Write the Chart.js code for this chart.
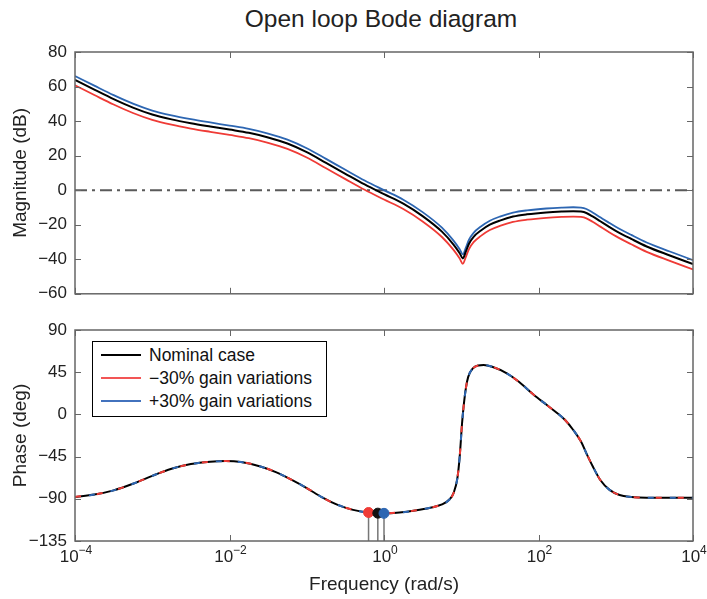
<!DOCTYPE html>
<html>
<head>
<meta charset="utf-8">
<title>Open loop Bode diagram</title>
<script src="https://cdn.jsdelivr.net/npm/chart.js@4.4.0/dist/chart.umd.min.js"></script>
<style>
    body { margin: 0; background: #fff; font-family: "Liberation Sans", Arial, sans-serif; }
    #wrap { position: relative; width: 707px; height: 599px; overflow: hidden; }
    #wrap canvas { position: absolute; left: 0; }
    #title { position: absolute; left: 72px; width: 618px; top: 5px; text-align: center; font-size: 24.5px; color: #222; }
    #legend { position: absolute; left: 92px; top: 341px; width: 233px; height: 74px; border: 1px solid #000; background: #fff; }
    .row { position: absolute; left: 0; height: 20px; font-size: 17.5px; color: #111; line-height: 20px; }
    .row span.line { position: absolute; left: 8px; top: 9px; width: 40px; height: 2px; }
    .row span.txt { position: absolute; left: 56px; top: 0; white-space: nowrap; }
</style>
</head>
<body>
<div id="wrap">
    <div id="title">Open loop Bode diagram</div>
    <canvas id="magChart" width="707" height="312" style="top:0"></canvas>
    <canvas id="phaseChart" width="707" height="299" style="top:300px"></canvas>
    <div id="legend">
        <div class="row" style="top:3px"><span class="line" style="background:#000"></span><span class="txt">Nominal case</span></div>
        <div class="row" style="top:26px"><span class="line" style="background:#f25555"></span><span class="txt">−30% gain variations</span></div>
        <div class="row" style="top:49px"><span class="line" style="background:#4272bd"></span><span class="txt">+30% gain variations</span></div>
    </div>
</div>
<script>
// 频率 (log10 rad/s)
const magFreqExp = [-4, -3.75, -3.5, -3.25, -3, -2.75, -2.5, -2.25, -2, -1.75, -1.5, -1.25, -1, -0.75, -0.5, -0.25, 0, 0.25, 0.5, 0.75, 0.9, 0.98, 1.02, 1.06, 1.1, 1.16, 1.25, 1.37, 1.5, 1.67, 1.85, 2.1, 2.3, 2.45, 2.55, 2.62, 2.7, 2.8, 2.9, 3.0, 3.2, 3.4, 3.7, 4];

// 幅值 (dB)
const magNominal = [63.8, 58.2, 52.7, 47.8, 43.8, 41.0, 38.8, 36.9, 35.1, 33.2, 30.5, 27.0, 22.0, 15.8, 9.5, 3.3, -2.3, -7.8, -15.0, -24.0, -31.5, -36.5, -39.5, -35.5, -31.0, -27.0, -23.5, -20.0, -17.6, -15.3, -14.0, -12.9, -12.4, -12.2, -12.4, -13.2, -15.2, -18.0, -20.8, -23.5, -28.2, -32.6, -37.8, -42.8];
const magMinus30 = [60.7, 55.1, 49.6, 44.7, 40.7, 37.9, 35.7, 33.8, 32.0, 30.1, 27.4, 23.9, 18.9, 12.7, 6.4, 0.2, -5.4, -10.9, -18.1, -27.1, -34.6, -39.6, -42.6, -38.6, -34.1, -30.1, -26.6, -23.1, -20.7, -18.4, -17.1, -16.0, -15.5, -15.3, -15.5, -16.3, -18.3, -21.1, -23.9, -26.6, -31.3, -35.7, -40.9, -45.9];
const magPlus30 = [66.1, 60.5, 55.0, 50.1, 46.1, 43.3, 41.1, 39.2, 37.4, 35.5, 32.8, 29.3, 24.3, 18.1, 11.8, 5.6, 0.0, -5.5, -12.7, -21.7, -29.2, -34.2, -37.2, -33.2, -28.7, -24.7, -21.2, -17.7, -15.3, -13.0, -11.7, -10.6, -10.1, -9.9, -10.1, -10.9, -12.9, -15.7, -18.5, -21.2, -25.9, -30.3, -35.5, -40.5];

// 相位 (deg)，三条曲线重合
const phaseFreqExp = [-4, -3.75, -3.5, -3.25, -3, -2.75, -2.5, -2.25, -2.05, -1.85, -1.6, -1.4, -1.2, -1, -0.8, -0.6, -0.4, -0.2, 0, 0.2, 0.4, 0.6, 0.75, 0.85, 0.9, 0.95, 0.98, 1.01, 1.03, 1.06, 1.09, 1.15, 1.22, 1.29, 1.4, 1.59, 1.75, 1.93, 2.1, 2.24, 2.35, 2.45, 2.55, 2.62, 2.7, 2.8, 2.92, 3.05, 3.2, 3.4, 4];
const phaseDeg = [-88, -85.5, -81, -74, -65.5, -58, -53, -50.5, -49.8, -50.8, -55.5, -61.5, -69.5, -78.5, -88.5, -96.5, -101.8, -104.6, -105.5, -104.6, -102.5, -99.5, -96, -90.5, -84, -68, -45, -10, 8, 28, 40, 49, 52.2, 52.7, 50.8, 43.8, 34.5, 21.5, 10.5, 1.5, -6.5, -16.6, -29, -41.5, -55, -70, -80.5, -86, -88, -88.8, -88.8];

// 相位裕度点
const pmFreqExp = [-0.2, -0.08, 0.0];
const pmPhase = [-104.6, -105.3, -105.5];
const pmColors = ['#ef3b36', '#111111', '#2d66b2'];

// 刻度
const xTickExp = [-4, -2, 0, 2, 4];

const RED = '#ef3b36';
const BLUE = '#2d66b2';
const AXIS = '#666666';
const FONT = '"Liberation Sans", Arial, sans-serif';

function pts(xs, ys) {
    return xs.map((x, i) => ({ x: x, y: ys[i] }));
}

function fmtMinus(v) {
    return v < 0 ? '−' + Math.abs(v) : String(v);
}

// 边框和向内刻度
const boxPlugin = {
    id: 'box',
    afterDatasetsDraw(chart) {
        const { ctx, chartArea: a, scales } = chart;
        ctx.save();
        ctx.strokeStyle = AXIS;
        ctx.lineWidth = 1;
        ctx.beginPath();
        xTickExp.forEach(v => {
            const px = Math.round(scales.x.getPixelForValue(v)) + 0.5;
            ctx.moveTo(px, a.bottom); ctx.lineTo(px, a.bottom - 6);
            ctx.moveTo(px, a.top); ctx.lineTo(px, a.top + 6);
        });
        scales.y.ticks.forEach(t => {
            const py = Math.round(scales.y.getPixelForValue(t.value)) + 0.5;
            ctx.moveTo(a.left, py); ctx.lineTo(a.left + 6, py);
            ctx.moveTo(a.right, py); ctx.lineTo(a.right - 6, py);
        });
        ctx.stroke();
        ctx.lineWidth = 1.5;
        ctx.strokeRect(a.left, a.top, a.right - a.left, a.bottom - a.top);
        ctx.restore();
    }
};

// x轴 10^n 标签
const expLabelPlugin = {
    id: 'expLabels',
    afterDraw(chart) {
        const { ctx, chartArea: a, scales } = chart;
        ctx.save();
        ctx.fillStyle = '#222';
        ctx.textBaseline = 'alphabetic';
        ctx.textAlign = 'left';
        xTickExp.forEach(e => {
            const px = scales.x.getPixelForValue(e);
            const base = '10';
            const sup = e < 0 ? '−' + Math.abs(e) : String(e);
            ctx.font = '17px ' + FONT;
            const wb = ctx.measureText(base).width;
            ctx.font = '12px ' + FONT;
            const ws = ctx.measureText(sup).width;
            const x0 = px - (wb + ws) / 2 + 1;
            const y0 = a.bottom + 21;
            ctx.font = '17px ' + FONT;
            ctx.fillText(base, x0, y0);
            ctx.font = '12px ' + FONT;
            ctx.fillText(sup, x0 + wb, y0 - 8);
        });
        ctx.restore();
    }
};

function yScale(min, max, step, title) {
    return {
        type: 'linear',
        min: min,
        max: max,
        grid: { display: false, drawTicks: false },
        border: { display: false },
        ticks: {
            stepSize: step,
            padding: 8,
            color: '#222',
            font: { size: 17, family: FONT },
            callback: v => fmtMinus(v)
        },
        title: {
            display: true,
            text: title,
            color: '#222',
            font: { size: 19, family: FONT },
            padding: { top: 9, bottom: 0 }
        },
        afterFit: s => { s.width = 75; }
    };
}

function xScale(height, title) {
    const sc = {
        type: 'linear',
        min: -4,
        max: 4,
        grid: { display: false, drawTicks: false },
        border: { display: false },
        ticks: { display: false, stepSize: 2 },
        afterFit: s => { s.height = height; }
    };
    if (title) {
        sc.title = {
            display: true,
            text: title,
            color: '#222',
            font: { size: 19, family: FONT },
            padding: { top: 0, bottom: 3 }
        };
    }
    return sc;
}

const baseOptions = {
    responsive: false,
    animation: false,
    events: [],
    plugins: { legend: { display: false }, tooltip: { enabled: false } },
    elements: { point: { radius: 0 }, line: { cubicInterpolationMode: 'monotone' } }
};

// 幅值图
new Chart(document.getElementById('magChart').getContext('2d'), {
    type: 'line',
    data: {
        datasets: [
            { data: pts(magFreqExp, magNominal), borderColor: '#000', borderWidth: 2 },
            { data: pts(magFreqExp, magPlus30), borderColor: BLUE, borderWidth: 1.8 },
            { data: pts(magFreqExp, magMinus30), borderColor: RED, borderWidth: 1.8 },
            { data: pts([-4, 4], [0, 0]), borderColor: '#5a5a5a', borderWidth: 2, borderDash: [12, 5, 3, 5] }
        ]
    },
    options: Object.assign({}, baseOptions, {
        layout: { padding: { top: 52, right: 14, left: 0, bottom: 0 } },
        scales: {
            x: xScale(18),
            y: yScale(-60, 80, 20, 'Magnitude (dB)')
        }
    }),
    plugins: [boxPlugin]
});

// 相位图 (数组中靠前的数据集画在上层)
const stemSets = pmFreqExp.map((f, i) => ({
    data: pts([f, f], [pmPhase[i], -135]),
    borderColor: '#777',
    borderWidth: 1.5,
    cubicInterpolationMode: 'default',
    tension: 0
}));

new Chart(document.getElementById('phaseChart').getContext('2d'), {
    type: 'line',
    data: {
        datasets: [{
            data: pts(pmFreqExp, pmPhase),
            showLine: false,
            pointRadius: 5,
            pointBackgroundColor: pmColors,
            pointBorderColor: pmColors,
            pointBorderWidth: 1
        },
        { data: pts(phaseFreqExp, phaseDeg), borderColor: BLUE, borderWidth: 2, borderDash: [6, 16], borderDashOffset: 8 },
        { data: pts(phaseFreqExp, phaseDeg), borderColor: RED, borderWidth: 2, borderDash: [6, 16] },
        { data: pts(phaseFreqExp, phaseDeg), borderColor: '#000', borderWidth: 2 }
        ].concat(stemSets)
    },
    options: Object.assign({}, baseOptions, {
        layout: { padding: { top: 30, right: 14, left: 0, bottom: 0 } },
        scales: {
            x: xScale(58, 'Frequency (rad/s)'),
            y: yScale(-135, 90, 45, 'Phase (deg)')
        }
    }),
    plugins: [boxPlugin, expLabelPlugin]
});
</script>
</body>
</html>
